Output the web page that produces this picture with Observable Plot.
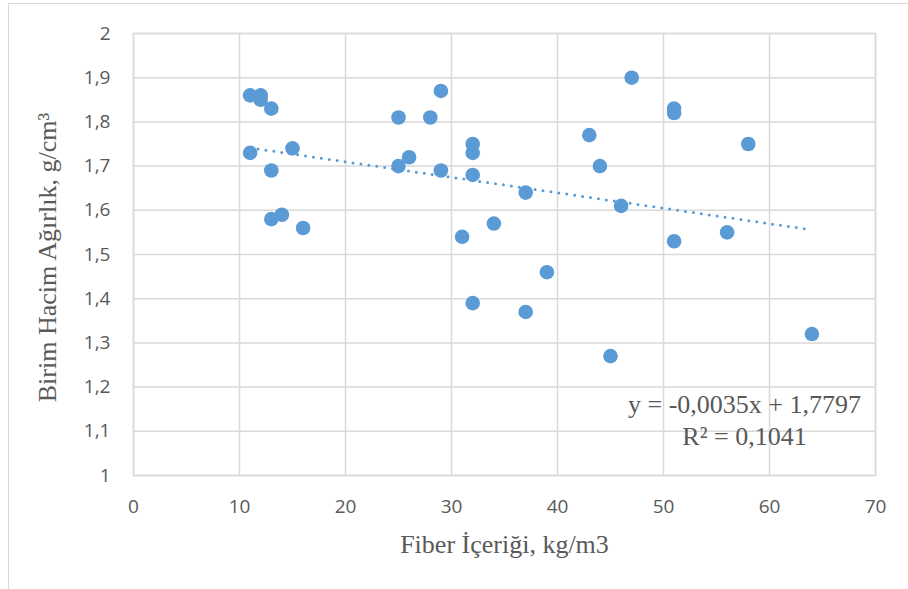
<!DOCTYPE html>
<html>
<head>
<meta charset="utf-8">
<script src="https://cdn.jsdelivr.net/npm/d3@7"></script>
<script src="https://cdn.jsdelivr.net/npm/@observablehq/plot@0.6"></script>
<style>
  html, body { margin: 0; padding: 0; background: #fff; }
  #wrap { position: relative; width: 908px; height: 589px; overflow: hidden; }
  #edge { position: absolute; left: 8px; top: 3px; width: 920px; height: 600px;
          border-top: 1.5px solid #D9D9D9; border-left: 1.5px solid #D9D9D9; pointer-events: none; }
</style>
</head>
<body>
<div id="wrap"><div id="edge"></div></div>
<script>
// Fiber content (kg/m3) and unit weight (g/cm3) of each sample
const fiber = [11, 12, 12, 13, 11, 15, 13, 13, 14, 16,
               25, 25, 26, 28, 29, 29, 31, 32, 32, 32,
               32, 34, 37, 37, 39, 43, 44, 45, 46, 47,
               51, 51, 51, 56, 58, 64];
const density = [1.86, 1.86, 1.85, 1.83, 1.73, 1.74, 1.69, 1.58, 1.59, 1.56,
                 1.81, 1.70, 1.72, 1.81, 1.87, 1.69, 1.54, 1.75, 1.73, 1.68,
                 1.39, 1.57, 1.64, 1.37, 1.46, 1.77, 1.70, 1.27, 1.61, 1.90,
                 1.83, 1.82, 1.53, 1.55, 1.75, 1.32];

// Linear trend reported on the chart
const slope = -0.0035;
const intercept = 1.7797;
const rSquared = 0.1041;

const xTicks = [0, 10, 20, 30, 40, 50, 60, 70];
const yTicks = [1, 1.1, 1.2, 1.3, 1.4, 1.5, 1.6, 1.7, 1.8, 1.9, 2];

const xLabel = "Fiber İçeriği, kg/m3";
const yLabel = "Birim Hacim Ağırlık, g/cm³";

const points = fiber.map((f, i) => ({x: f, y: density[i]}));
const [xMin, xMax] = d3.extent(fiber);
const trend = [xMin, xMax].map(x => ({x, y: slope * x + intercept}));

const comma = v => String(v).replace(".", ",");
const equation = `y = ${comma(slope)}x + ${comma(intercept)}\nR² = ${comma(rSquared)}`;

const blue = "#5B9BD5";
const gray = "#D9D9D9";
const textGray = "#595959";
const serif = "'Liberation Serif', 'Times New Roman', serif";

const chart = Plot.plot({
  width: 908,
  height: 589,
  marginLeft: 133,
  marginRight: 33,
  marginTop: 33,
  marginBottom: 114,
  style: {fontFamily: "'Open Sans', sans-serif", fontSize: "19px", color: textGray, background: "transparent"},
  x: {domain: [0, 70], ticks: xTicks, tickFormat: comma, label: null},
  y: {domain: [1, 2], ticks: yTicks, tickFormat: comma, label: null},
  marks: [
    Plot.gridX(xTicks, {stroke: gray, strokeOpacity: 1, strokeWidth: 1.5}),
    Plot.gridY(yTicks, {stroke: gray, strokeOpacity: 1, strokeWidth: 1.5}),
    Plot.frame({stroke: gray, strokeWidth: 1.5}),
    Plot.axisX(xTicks, {tickSize: 0, tickPadding: 24, tickFormat: comma, fill: textGray, fontSize: 19, label: null}),
    Plot.axisY(yTicks, {tickSize: 0, tickPadding: 23, tickFormat: comma, fill: textGray, fontSize: 19, label: null}),
    Plot.line(trend, {x: "x", y: "y", stroke: blue, strokeWidth: 3, strokeDasharray: "0,8", strokeLinecap: "round"}),
    Plot.dot(points, {x: "x", y: "y", r: 7.3, fill: blue, stroke: "none"}),
    Plot.text([equation], {frameAnchor: "bottom-right", dx: -131, dy: -31, textAnchor: "middle",
      lineAnchor: "bottom", lineHeight: 1.2, fontFamily: serif, fontSize: 26, fill: textGray}),
    Plot.text([xLabel], {frameAnchor: "bottom", dy: 77, textAnchor: "middle", lineAnchor: "bottom",
      fontFamily: serif, fontSize: 26, fill: textGray}),
    Plot.text([yLabel], {frameAnchor: "left", dx: -78, dy: 3, rotate: -90, textAnchor: "middle",
      lineAnchor: "bottom", fontFamily: serif, fontSize: 26, fill: textGray})
  ]
});

document.getElementById("wrap").insertBefore(chart, document.getElementById("edge"));
</script>
</body>
</html>
